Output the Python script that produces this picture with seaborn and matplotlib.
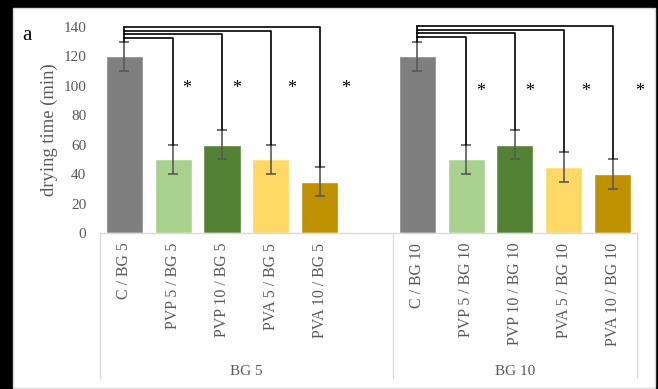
import matplotlib
matplotlib.use('Agg')
import matplotlib.pyplot as plt
import matplotlib.patches as mpatches
import matplotlib.transforms as mtransforms
import seaborn as sns
import pandas as pd
import numpy as np

# data
groups = ['BG 5', 'BG 10']
labels = ['C / BG 5', 'PVP 5 / BG 5', 'PVP 10 / BG 5', 'PVA 5 / BG 5', 'PVA 10 / BG 5',
          'C / BG 10', 'PVP 5 / BG 10', 'PVP 10 / BG 10', 'PVA 5 / BG 10', 'PVA 10 / BG 10']
positions = [0, 1, 2, 3, 4, 6, 7, 8, 9, 10]
drying_time = [120, 50, 60, 50, 35, 120, 50, 60, 45, 40]
errors = [10, 10, 10, 10, 10, 10, 10, 10, 10, 10]
colors = ['#7f7f7f', '#a9d18e', '#548235', '#ffd966', '#bf9000'] * 2
# bracket heights (control -> sample) per group
bracket_y = [[132.5, 135.3, 137.5, 140], [133, 135.7, 138, 141]]
star_x = [1.27, 2.29, 3.43, 4.53, 7.29, 8.31, 9.45, 10.55]
star_y = [98.5, 98.5, 98.5, 98.5, 96, 96, 96, 96]

df = pd.DataFrame({'pos': positions, 'label': labels, 'time': drying_time})

sns.set_style('white')
plt.rcParams['font.family'] = ['Liberation Serif', 'DejaVu Serif']

fig = plt.figure(figsize=(6.58, 3.89), dpi=100)
fig.patch.set_facecolor('black')
bg = mpatches.Rectangle((13 / 658, 1.5 / 389), 642 / 658, 380 / 389,
                        transform=fig.transFigure, facecolor='white',
                        edgecolor='#d9d9d9', linewidth=1, zorder=-5)
fig.add_artist(bg)
ax = fig.add_axes([0.152, 0.401, 0.816, 0.5296])
ax.set_zorder(2)
ax.set_facecolor('none')

sns.barplot(data=df, x='pos', y='time', hue='label', hue_order=labels, palette=colors,
            native_scale=True, width=0.76, dodge=False, errorbar=None, legend=False,
            saturation=1, ax=ax)
ax.errorbar(positions, drying_time, yerr=errors, fmt='none', ecolor='#595959',
            elinewidth=1.2, capsize=3.5, capthick=1.2, zorder=3)

# significance brackets
for g in range(2):
    base = g * 5
    c = positions[base]
    top_c = drying_time[base] + errors[base]
    ax.plot([c, c], [top_c, max(bracket_y[g])], color='black', lw=1.2, clip_on=False, zorder=4)
    for k in range(4):
        i = base + k + 1
        h = bracket_y[g][k]
        ax.plot([c, positions[i], positions[i]], [h, h, drying_time[i] + errors[i]],
                color='black', lw=1.2, clip_on=False, zorder=4)
for sx, sy in zip(star_x, star_y):
    ax.text(sx, sy, '*', ha='center', va='center', fontsize=13, color='black')

ax.set_xlim(-0.5, 10.5)
ax.set_ylim(0, 140)
ax.set_yticks(range(0, 141, 20))
ax.set_xticks(positions)
ax.set_xticklabels(labels, rotation=90, fontsize=11.4, color='#595959')
ax.tick_params(axis='y', labelsize=11, labelcolor='#595959', length=0, pad=10)
ax.tick_params(axis='x', length=0, pad=7)
ax.set_xlabel('')
ax.set_ylabel('drying time (min)', fontsize=13.4, color='#595959', labelpad=4)
for s in ['top', 'right', 'left']:
    ax.spines[s].set_visible(False)
ax.spines['bottom'].set_color('#d9d9d9')
ax.spines['bottom'].set_linewidth(1)

# group separators and group labels
trans = mtransforms.blended_transform_factory(ax.transData, ax.transAxes)
for xs in [-0.5, 5.5, 10.5]:
    ax.plot([xs, xs], [0, -0.704], color='#d9d9d9', lw=1, transform=trans, clip_on=False)
for gx, gname in zip([2.5, 8.0], groups):
    ax.text(gx, -0.67, gname, ha='center', va='center', fontsize=11, color='#595959',
            transform=trans)

fig.text(27 / 658, 1 - 35 / 389, 'a', fontsize=15, color='black', ha='center', va='center')

fig.savefig('out.png', dpi=100, facecolor=fig.get_facecolor())
